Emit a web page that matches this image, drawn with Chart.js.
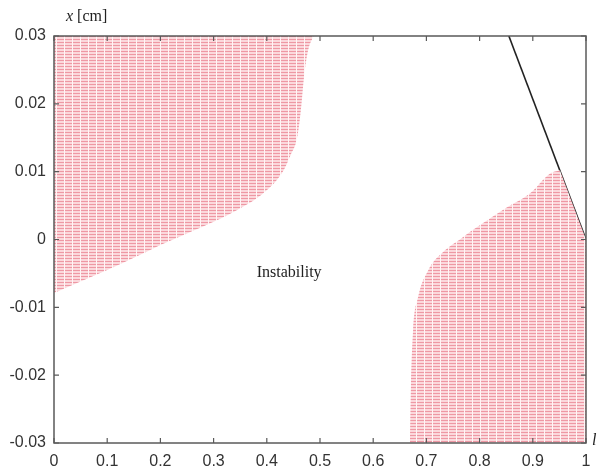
<!DOCTYPE html>
<html>
<head>
<meta charset="utf-8">
<script src="https://cdn.jsdelivr.net/npm/chart.js@4/dist/chart.umd.min.js"></script>
<style>
  html, body { margin: 0; padding: 0; background: #fff; }
  #wrap { width: 598px; height: 468px; }
</style>
</head>
<body>
<div id="wrap"><canvas id="stabChart" width="598" height="468"></canvas></div>
<script>
// ========= DATA =========

// left hatched region: boundary curve, region lies above it
const leftX = [0, 0.05, 0.1, 0.15, 0.2, 0.25, 0.3, 0.35, 0.39, 0.43, 0.445, 0.457, 0.464, 0.47, 0.478, 0.488];
const leftY = [-0.0079, -0.0062, -0.0045, -0.0027, -0.0008, 0.0009, 0.0026, 0.0046, 0.0066, 0.0100, 0.0125, 0.015, 0.019, 0.024, 0.028, 0.03];

// right hatched region: curved upper boundary, region lies below it
const rightX = [0.669, 0.671, 0.675, 0.684, 0.703, 0.735, 0.763, 0.785, 0.806, 0.851, 0.895, 0.932, 0.951];
const rightY = [-0.03, -0.0215, -0.0134, -0.0086, -0.0046, -0.0016, 0, 0.0013, 0.0024, 0.0047, 0.0068, 0.0097, 0.0102];

// right hatched region: part bounded by the straight line
const wedgeX = [0.951, 1.0];
const wedgeY = [0.0102, 0];

// straight black line
const lineX = [0.855, 1.0];
const lineY = [0.03, 0];

const xTicks = [0, 0.1, 0.2, 0.3, 0.4, 0.5, 0.6, 0.7, 0.8, 0.9, 1];
const yTicks = [-0.03, -0.02, -0.01, 0, 0.01, 0.02, 0.03];

const REGION_LABEL = "Instability";
const REGION_LABEL_AT = { x: 0.442, y: -0.0049 };


function toPoints(xs, ys) {
    return xs.map((x, i) => ({ x: x, y: ys[i] }));
}

// MATLAB-ish pink hatch
function makeHatch() {
    const c = document.createElement('canvas');
    c.width = 8;
    c.height = 3;
    const g = c.getContext('2d');
    g.fillStyle = 'rgb(251, 216, 220)';
    g.fillRect(0, 0, 8, 3);
    g.fillStyle = 'rgb(238, 152, 164)';
    g.fillRect(0, 0, 8, 1);
    g.fillStyle = 'rgb(255, 246, 246)';
    g.fillRect(0, 0, 1, 3);
    return g.createPattern(c, 'repeat');
}

const hatch = makeHatch();

function fmt(v) {
    return String(+Number(v).toFixed(2));
}

function regionSet(xs, ys, fillTo, smooth) {
    return {
        data: toPoints(xs, ys),
        showLine: true,
        borderWidth: 0,
        borderColor: 'rgba(0,0,0,0)',
        backgroundColor: hatch,
        fill: fillTo,
        pointRadius: 0,
        cubicInterpolationMode: smooth ? 'monotone' : 'default',
        tension: 0,
    };
}

// frame, inward ticks on all four sides, labels
const framePlugin = {
    id: 'framePlugin',
    afterDraw(chart) {
        const ctx = chart.ctx;
        const a = chart.chartArea;
        const xs = chart.scales.x;
        const ys = chart.scales.y;
        ctx.save();
        ctx.strokeStyle = '#5a5a5a';
        ctx.lineWidth = 1.5;
        ctx.strokeRect(a.left, a.top, a.right - a.left, a.bottom - a.top);

        ctx.lineWidth = 1.2;
        ctx.beginPath();
        const tl = 5;
        xTicks.forEach(v => {
            const px = xs.getPixelForValue(v);
            ctx.moveTo(px, a.bottom); ctx.lineTo(px, a.bottom - tl);
            ctx.moveTo(px, a.top); ctx.lineTo(px, a.top + tl);
        });
        yTicks.forEach(v => {
            const py = ys.getPixelForValue(v);
            ctx.moveTo(a.left, py); ctx.lineTo(a.left + tl, py);
            ctx.moveTo(a.right, py); ctx.lineTo(a.right - tl, py);
        });
        ctx.stroke();

        // region label
        ctx.fillStyle = '#222';
        ctx.font = '16px "Liberation Serif", "DejaVu Serif", serif';
        ctx.textAlign = 'center';
        ctx.textBaseline = 'middle';
        ctx.fillText(REGION_LABEL, xs.getPixelForValue(REGION_LABEL_AT.x), ys.getPixelForValue(REGION_LABEL_AT.y));

        // axis titles
        ctx.textAlign = 'left';
        ctx.textBaseline = 'alphabetic';
        ctx.font = 'italic 16px "Liberation Serif", serif';
        ctx.fillText('x', 66, 21);
        const w = ctx.measureText('x ').width;
        ctx.font = '16px "Liberation Serif", serif';
        ctx.fillText('[cm]', 66 + w, 21);
        ctx.font = 'italic 16px "Liberation Serif", serif';
        ctx.fillText('l', a.right + 6, a.bottom + 2);
        ctx.restore();
    }
};

const ctx = document.getElementById('stabChart').getContext('2d');
const stabChart = new Chart(ctx, {
    type: 'scatter',
    data: {
        datasets: [
            regionSet(leftX, leftY, 'end', true),
            regionSet(rightX, rightY, 'start', true),
            regionSet(wedgeX, wedgeY, 'start', false),
            {
                data: toPoints(lineX, lineY),
                showLine: true,
                borderWidth: 1.6,
                borderColor: '#222',
                fill: false,
                pointRadius: 0,
            },
        ],
    },
    options: {
        responsive: false,
        animation: false,
        layout: { padding: { top: 36, right: 12, left: 0, bottom: 0 } },
        plugins: {
            legend: { display: false },
            tooltip: { enabled: false },
        },
        scales: {
            x: {
                type: 'linear',
                min: 0,
                max: 1,
                afterBuildTicks: (s) => { s.ticks = xTicks.map(v => ({ value: v })); },
                afterFit: (s) => { s.height = 25; },
                grid: { display: false },
                border: { display: false },
                ticks: {
                    padding: 1,
                    color: '#333',
                    font: { family: '"Liberation Sans", Arial, sans-serif', size: 16 },
                    callback: fmt,
                },
            },
            y: {
                type: 'linear',
                min: -0.03,
                max: 0.03,
                afterBuildTicks: (s) => { s.ticks = yTicks.map(v => ({ value: v })); },
                afterFit: (s) => { s.width = 54; },
                grid: { display: false },
                border: { display: false },
                ticks: {
                    padding: 0,
                    color: '#333',
                    font: { family: '"Liberation Sans", Arial, sans-serif', size: 16 },
                    callback: fmt,
                },
            },
        },
    },
    plugins: [framePlugin],
});
</script>
</body>
</html>
